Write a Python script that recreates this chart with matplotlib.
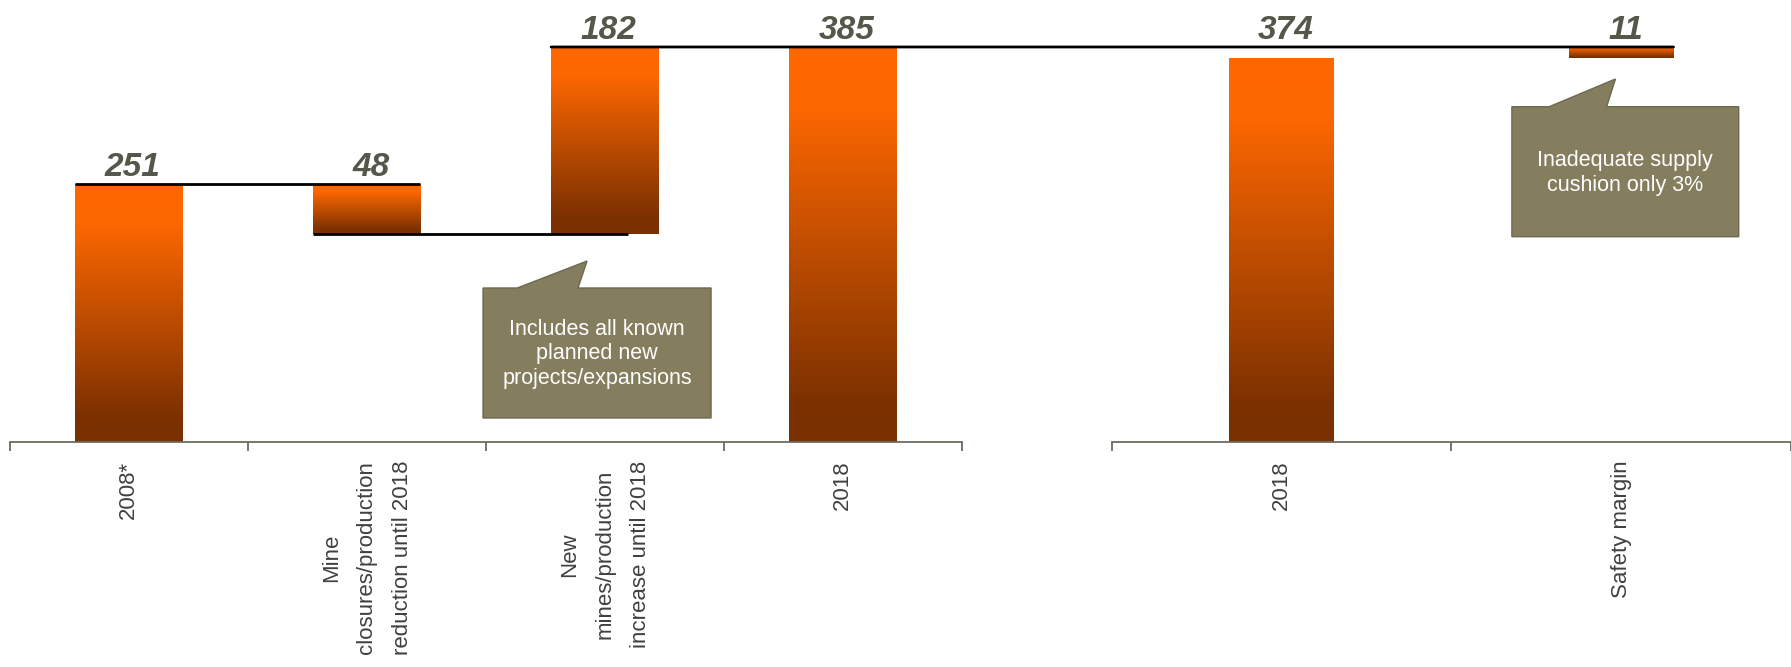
import numpy as np
import matplotlib.pyplot as plt
from matplotlib.colors import LinearSegmentedColormap
from matplotlib.patches import Polygon, ConnectionPatch

# ---- data ----
labels_supply = ["2008*",
                 "Mine\nclosures/production\nreduction until 2018",
                 "New\nmines/production\nincrease until 2018",
                 "2018"]
steps_supply = [251, -48, 182]      # 2008 level, closures, new mines
labels_demand = ["2018", "Safety margin"]
demand_2018 = 374

note_supply = "Includes all known\nplanned new\nprojects/expansions"
note_margin = "Inadequate supply\ncushion only 3%"

# ---- derived ----
levels = np.cumsum(steps_supply)            # 251, 203, 385
supply_2018 = int(levels[-1])
margin = supply_2018 - demand_2018

bottoms_l = [0]
heights_l = [steps_supply[0]]
for prev, cur in zip(levels[:-1], levels[1:]):
    bottoms_l.append(min(prev, cur))
    heights_l.append(abs(cur - prev))
bottoms_l.append(0)
heights_l.append(supply_2018)

bottoms_r = [0, demand_2018]
heights_r = [demand_2018, margin]

# ---- style ----
plt.rcParams['font.family'] = ['Liberation Sans', 'DejaVu Sans']
cmap = LinearSegmentedColormap.from_list(
    "bar", [(0, "#7a3000"), (0.1, "#7d3100"), (0.85, "#fd6700"), (1, "#ff6800")])
grad = np.linspace(0, 1, 256).reshape(-1, 1)
val_color = "#56564a"
axis_color = "#6b6b60"
box_face = "#847d5e"
box_edge = "#6c6852"

W, H = 1791, 667
fig = plt.figure(figsize=(W / 100, H / 100), dpi=100)
base_px = 442
px_per_unit = 1.026
ax1 = fig.add_axes([9.6 / W, 1 - base_px / H, (961.7 - 9.6) / W, base_px / H])
ax2 = fig.add_axes([1111.9 / W, 1 - base_px / H, (W - 1111.9) / W, base_px / H])


def gradient_bars(ax, x, bottoms, heights, width):
    bars = ax.bar(x, heights, width, bottom=bottoms, facecolor="none",
                  edgecolor="none", zorder=2)
    for b in bars:
        x0, y0 = b.get_x(), b.get_y()
        im = ax.imshow(grad, cmap=cmap, origin="lower", aspect="auto",
                       interpolation="bicubic", zorder=2,
                       extent=(x0, x0 + b.get_width(), y0, y0 + b.get_height()))
        im.set_clip_path(b)
    return bars


def style_axis(ax, labels):
    n = len(labels)
    ax.set_xlim(-0.5, n - 0.5)
    ax.set_ylim(0, base_px / px_per_unit)
    for s in ["top", "left", "right"]:
        ax.spines[s].set_visible(False)
    ax.spines["bottom"].set_color(axis_color)
    ax.spines["bottom"].set_linewidth(1.3)
    ax.set_yticks([])
    ax.set_xticks(range(n))
    ax.set_xticklabels(labels, rotation=90, fontsize=16, color="#404040",
                       linespacing=1.9)
    ax.set_xticks(np.arange(-0.5, n), minor=True)
    ax.tick_params(axis="x", which="major", length=0, pad=13.5)
    ax.tick_params(axis="x", which="minor", length=6.5, width=1.3,
                   color=axis_color)
    ax.patch.set_visible(False)


def value_label(ax, x, y, text):
    ax.annotate(text, (x, y), xytext=(3, 6), textcoords="offset points",
                ha="center", va="baseline", fontsize=24, fontweight="bold",
                fontstyle="italic", color=val_color, zorder=5)


def callout(ax, x0, x1, y0, y1, base_l, base_r, apex, text, tx, ty):
    verts = [(x0, y1), (base_l, y1), apex, (base_r, y1), (x1, y1),
             (x1, y0), (x0, y0)]
    ax.add_patch(Polygon(verts, closed=True, facecolor=box_face,
                         edgecolor=box_edge, lw=1, zorder=4, clip_on=False))
    ax.text(tx, ty, text, ha="center", va="center", fontsize=15.5,
            color="white", linespacing=1.2, zorder=5)


# ---- left panel: supply bridge ----
xl = np.arange(len(labels_supply))
bars_l = gradient_bars(ax1, xl, bottoms_l, heights_l, 0.45)
style_axis(ax1, labels_supply)

for b, h in zip(bars_l, heights_l):
    value_label(ax1, b.get_x() + b.get_width() / 2, b.get_y() + b.get_height(), f"{h}")

# connector lines
ax1.hlines(levels[0], bars_l[0].get_x(), bars_l[1].get_x() + bars_l[1].get_width(),
           color="black", lw=2, zorder=3)
ax1.hlines(levels[1], bars_l[1].get_x(), xl[2] + 0.1, color="black", lw=2, zorder=3)

callout(ax1, 1.489, 2.447, 23.4, 150.1, 1.633, 1.888, (1.926, 176.4),
        note_supply, 1.968, 85.8)

# ---- right panel: demand vs supply ----
xr = np.arange(len(labels_demand))
bars_r = gradient_bars(ax2, xr, bottoms_r, heights_r, 0.308)
style_axis(ax2, labels_demand)

for b, h in zip(bars_r, heights_r):
    value_label(ax2, b.get_x() + b.get_width() / 2, supply_2018, f"{h}")

con = ConnectionPatch(xyA=(bars_l[2].get_x(), supply_2018), coordsA=ax1.transData,
                      xyB=(bars_r[1].get_x() + bars_r[1].get_width(), supply_2018),
                      coordsB=ax2.transData, color="black", lw=2, zorder=3)
fig.add_artist(con)

callout(ax2, 0.678, 1.346, 200.1, 326.8, 0.788, 0.957, (0.983, 353.8),
        note_margin, 1.011, 262.2)

fig.savefig("out.png", dpi=100)
